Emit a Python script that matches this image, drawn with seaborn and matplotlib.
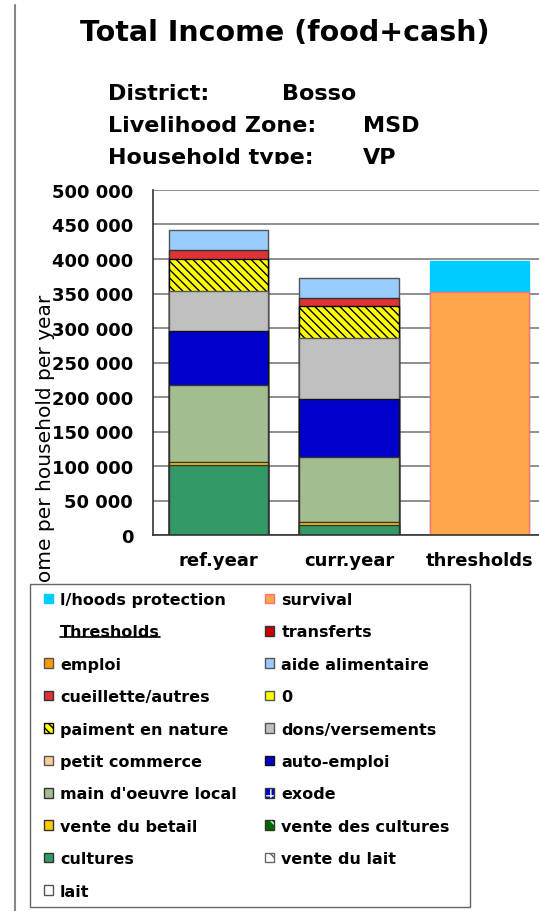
import matplotlib
matplotlib.use("Agg")
import matplotlib.pyplot as plt
import matplotlib.patches as mpatches
import matplotlib.lines as mlines
from matplotlib.ticker import MultipleLocator, FuncFormatter
from matplotlib.transforms import Bbox, TransformedBbox
import numpy as np
import pandas as pd
import seaborn as sns

# data
categories = ["ref.year", "curr.year", "thresholds"]
income_series = ["cultures", "vente du betail", "main d'oeuvre local", "auto-emploi",
                 "dons/versements", "paiment en nature", "cueillette/autres", "aide alimentaire"]
ref_values = [102000, 4000, 111000, 78000, 59000, 46000, 13500, 28000]
curr_values = [14500, 4500, 93500, 84500, 89000, 46000, 11500, 29500]
threshold_names = ["survival", "l/hoods protection"]
threshold_values = [352000, 45000]

# legend order (column by column, like the original)
legend_col1 = ["l/hoods protection", "Thresholds", "emploi", "cueillette/autres", "paiment en nature",
               "petit commerce", "main d'oeuvre local", "vente du betail", "cultures", "lait"]
legend_col2 = ["survival", "transferts", "aide alimentaire", "0", "dons/versements",
               "auto-emploi", "exode", "vente des cultures", "vente du lait"]

# colours / edges / hatches per series
styles = {
    "cultures": dict(fc="#339966", ec="#333333"),
    "vente du betail": dict(fc="#ffcc00", ec="#333333"),
    "main d'oeuvre local": dict(fc="#a2bd8f", ec="#333333"),
    "auto-emploi": dict(fc="#0000cc", ec="#111111"),
    "dons/versements": dict(fc="#c0c0c0", ec="#555555"),
    "paiment en nature": dict(fc="#ffff00", ec="#000000", hatch="\\\\\\\\"),
    "cueillette/autres": dict(fc="#dd3333", ec="#333333"),
    "aide alimentaire": dict(fc="#99ccff", ec="#555555"),
    "survival": dict(fc="#ffa64d", ec="#ff7070"),
    "l/hoods protection": dict(fc="#00ccff", ec="#00ccff"),
    "transferts": dict(fc="#cc0000", ec="#333333"),
    "emploi": dict(fc="#ff9900", ec="#555555"),
    "0": dict(fc="#ffff00", ec="#555555"),
    "petit commerce": dict(fc="#ffcc99", ec="#555555"),
    "exode": dict(fc="#0000cc", ec="#333333", hatch="++", hc="#ffffff"),
    "vente des cultures": dict(fc="#006600", ec="#333333", hatch="\\\\", hc="#ffffff"),
    "vente du lait": dict(fc="#ffffff", ec="#666666", hatch="\\\\"),
    "lait": dict(fc="#ffffff", ec="#555555"),
}

sns.set_style("white")
plt.rcParams['font.family'] = ['DejaVu Sans']
plt.rcParams['font.weight'] = 'bold'
plt.rcParams['text.color'] = 'black'
plt.rcParams['xtick.color'] = 'black'
plt.rcParams['ytick.color'] = 'black'
plt.rcParams['hatch.linewidth'] = 1.0

fig = plt.figure(figsize=(5.39, 9.12), dpi=100)
ax = fig.add_axes([153/539, 376/912, 392/539, 345/912])

# long table with cumulative tops
rows = []
for cat, vals in [("ref.year", ref_values), ("curr.year", curr_values)]:
    for name, top in zip(income_series, np.cumsum(vals)):
        rows.append(dict(category=cat, series=name, top=top))
for name, top in zip(threshold_names, np.cumsum(threshold_values)):
    rows.append(dict(category="thresholds", series=name, top=top))
df = pd.DataFrame(rows)

# highest segment first, lower ones drawn over it -> stacked look
for name in income_series[::-1] + threshold_names[::-1]:
    st = styles[name]
    sns.barplot(data=df[df.series == name], x="category", y="top", order=categories,
                color=st["fc"], saturation=1, width=0.76, edgecolor=st["ec"],
                linewidth=1, hatch=st.get("hatch"), errorbar=None, ax=ax)

ax.set_xlabel("")
ax.set_ylabel("")
ax.set_xlim(-0.5, 2.5)
ax.set_ylim(0, 500000)
ax.yaxis.set_major_locator(MultipleLocator(50000))
ax.yaxis.set_major_formatter(FuncFormatter(lambda v, p: f"{int(v):,}".replace(",", " ")))
ax.grid(axis="y", color="#707070", lw=1.1)
ax.set_axisbelow(True)
for s in ["top", "right"]:
    ax.spines[s].set_visible(False)
for s in ["left", "bottom"]:
    ax.spines[s].set_color("#333333")
    ax.spines[s].set_linewidth(1.2)
ax.tick_params(axis="y", direction="inout", length=8.6, width=1, color="#333333", pad=10, labelsize=13)
ax.set_xticks([0, 1, 2])
ax.set_xticklabels(categories)
ax.set_xticks([-0.5, 0.5, 1.5, 2.5], minor=True)
ax.tick_params(axis="x", which="major", length=0, pad=11.5, labelsize=13)
ax.tick_params(axis="x", which="minor", direction="out", length=5, width=1, color="#333333")

# titles
fig.text(285/539, 1 - 33/912, "Total Income (food+cash)", ha="center", va="center", fontsize=20.5)
clip = TransformedBbox(Bbox([[0, 1 - 165/912], [1, 1]]), fig.transFigure)
for lab, val, vx, yb in [("District:", "Bosso", 282, 100),
                         ("Livelihood Zone:", "MSD", 363, 132),
                         ("Household type:", "VP", 363, 164)]:
    fig.text(108/539, 1 - yb/912, lab, va="baseline", fontsize=16, clip_on=True, clip_box=clip)
    fig.text(vx/539, 1 - yb/912, val, va="baseline", fontsize=16, clip_on=True, clip_box=clip)

fig.text(46/539, 1 - 453/912, "Income per household per year", rotation=90,
         ha="center", va="center", fontsize=14.5, fontweight="normal")

# left border of the chart frame
fig.add_artist(mlines.Line2D([15/539, 15/539], [0, 1 - 6/912], transform=fig.transFigure,
                             color="#888888", lw=1.5))

# legend box
fig.add_artist(mpatches.Rectangle((30/539, 1 - 908/912), 440/539, 323/912, transform=fig.transFigure,
                                  facecolor="white", edgecolor="#666666", lw=1, zorder=4))

handles, labels = [], []
for name in legend_col1 + legend_col2:
    if name == "Thresholds":
        handles.append(mpatches.Patch(facecolor="none", edgecolor="none"))
    else:
        st = styles[name]
        if "hc" in st:
            # white hatch on colour, dark outline on top
            handles.append((mpatches.Patch(facecolor=st["fc"], edgecolor=st["hc"], hatch=st["hatch"], lw=0),
                            mpatches.Patch(facecolor="none", edgecolor=st["ec"], lw=1)))
        else:
            handles.append(mpatches.Patch(facecolor=st["fc"], edgecolor=st["ec"], hatch=st.get("hatch"), lw=1))
    labels.append(name)

leg = fig.legend(handles, labels, ncol=2, loc="upper left", bbox_to_anchor=(44/539, 1 - 593/912),
                 frameon=False, fontsize=11.5, handlelength=0.55, handleheight=0.55,
                 handletextpad=0.45, labelspacing=1.09, columnspacing=1.8,
                 borderpad=0, borderaxespad=0)
leg.set_zorder(5)

# underline "Thresholds"
fig.canvas.draw()
renderer = fig.canvas.get_renderer()
for t in leg.get_texts():
    if t.get_text() == "Thresholds":
        bb = t.get_window_extent(renderer)
        W, H = fig.bbox.width, fig.bbox.height
        yl = (bb.y0 + 2) / H
        fig.add_artist(mlines.Line2D([bb.x0 / W, bb.x1 / W], [yl, yl], transform=fig.transFigure,
                                     color="black", lw=1.2, zorder=6))

fig.savefig("out.png", dpi=100)
